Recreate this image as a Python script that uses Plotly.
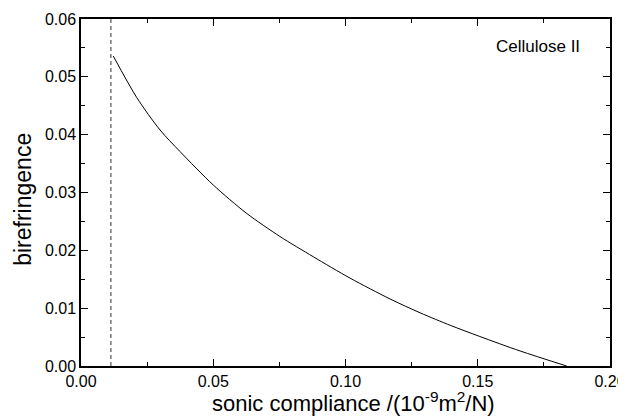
import plotly.graph_objects as go

# Curve
compliance = [0.0122, 0.0211, 0.0299, 0.0374, 0.0500, 0.0626, 0.0752, 0.0878,
              0.1017, 0.1168, 0.1282, 0.1398, 0.1508, 0.1660, 0.1836]
birefringence = [0.0536, 0.0464, 0.0408, 0.0371, 0.0313, 0.0264, 0.0224, 0.0189,
                 0.0152, 0.0116, 0.0092, 0.0070, 0.0051, 0.0026, 0.0000]

limit_x = [0.0113, 0.0113]
limit_y = [0.0, 0.06]

x_ticks = [0.00, 0.05, 0.10, 0.15, 0.20]
y_ticks = [0.00, 0.01, 0.02, 0.03, 0.04, 0.05, 0.06]

FONT = "Liberation Sans, Arial, Helvetica, sans-serif"

fig = go.Figure()
fig.add_trace(go.Scatter(x=limit_x, y=limit_y, mode="lines",
                         line=dict(color="#555555", width=1.2, dash="4px,3px"),
                         showlegend=False, hoverinfo="skip"))
fig.add_trace(go.Scatter(x=compliance, y=birefringence, mode="lines",
                         line=dict(color="black", width=1, shape="spline", smoothing=0.8),
                         showlegend=False))

axis_common = dict(showline=True, linecolor="black", linewidth=1.5, mirror="allticks",
                   ticks="inside", ticklen=7, tickwidth=1, tickcolor="black",
                   showgrid=False, zeroline=False, automargin=False,
                   tickfont=dict(family=FONT, size=16, color="black"))

fig.update_xaxes(range=[0, 0.2], tickvals=x_ticks, tickformat=".2f",
                 minor=dict(ticks="inside", ticklen=4, dtick=0.025, tickcolor="black"),
                 **axis_common)
fig.update_yaxes(range=[0, 0.06], tickvals=y_ticks, tickformat=".2f",
                 minor=dict(ticks="inside", ticklen=4, dtick=0.005, tickcolor="black"),
                 **axis_common)

# axis titles as annotations for exact placement
fig.add_annotation(x=0.516, y=0, xref="paper", yref="paper", xanchor="center", yanchor="middle",
                   yshift=-36, showarrow=False,
                   text="sonic compliance /(10<sup>-9</sup>m<sup>2</sup>/N)",
                   font=dict(family=FONT, size=22, color="black"))
fig.add_annotation(x=0, y=0.479, xref="paper", yref="paper", xanchor="center", yanchor="middle",
                   xshift=-58, textangle=-90, showarrow=False,
                   text="birefringence",
                   font=dict(family=FONT, size=23, color="black"))

fig.add_annotation(x=0.947, y=0.921, xref="paper", yref="paper", xanchor="right", yanchor="middle",
                   text="Cellulose II", showarrow=False,
                   font=dict(family=FONT, size=17, color="black"))

# page has an 8px body margin, so the figure is sized/offset to fit the 626x416 window
fig.update_layout(width=618, height=408, margin=dict(l=73, r=16, t=11, b=50),
                  plot_bgcolor="white", paper_bgcolor="white")

fig.write_html("out.html")
